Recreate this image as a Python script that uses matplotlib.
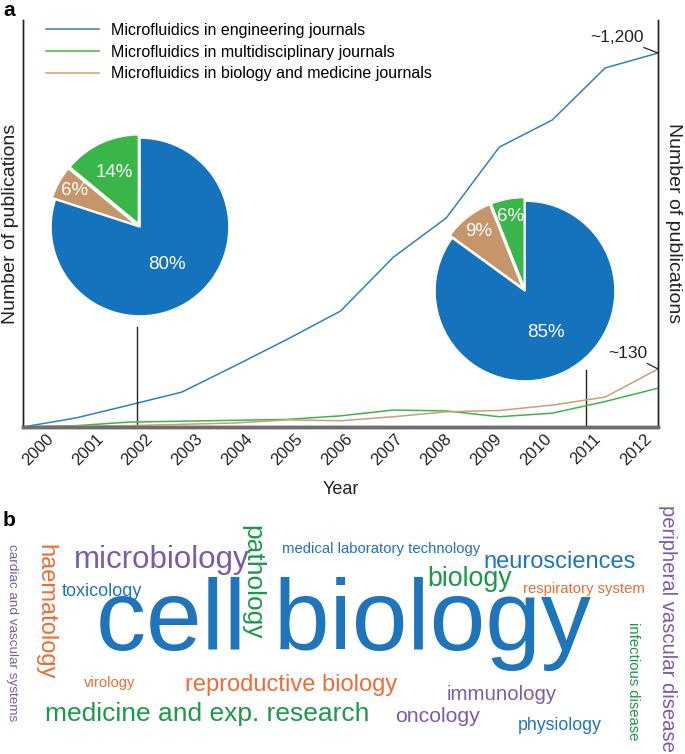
import numpy as np
import matplotlib
matplotlib.use("Agg")
import matplotlib.pyplot as plt
from matplotlib import font_manager

plt.rcParams['font.family'] = ['Liberation Sans', 'DejaVu Sans']

# ---- data ----
years = np.arange(2000, 2013)
engineering = [0, 29, 70, 112, 196, 282, 372, 545, 671, 898, 985, 1152, 1200]
multidisciplinary = [0, 3, 11, 13, 15, 17, 25, 38, 36, 23, 31, 57, 87]
biology_medicine = [0, 2, 3, 6, 9, 16, 14, 23, 34, 37, 49, 67, 130]

series_labels = ['Microfluidics in engineering journals',
                 'Microfluidics in multidisciplinary journals',
                 'Microfluidics in biology and medicine journals']

pie_years = [2002, 2011]
pie_2002 = [14, 6, 80]   # multidisciplinary, biology/medicine, engineering
pie_2011 = [6, 9, 85]

words = ['cell biology', 'microbiology', 'pathology', 'haematology',
         'medical laboratory technology', 'neurosciences', 'biology',
         'toxicology', 'respiratory system', 'cardiac and vascular systems',
         'virology', 'reproductive biology', 'immunology',
         'medicine and exp. research', 'oncology', 'physiology',
         'infectious disease', 'peripheral vascular disease']

# ---- styling ----
W, H = 685, 754
c_blue_line, c_green_line, c_tan_line = '#3280c2', '#3db54d', '#c9a07a'
c_blue_pie, c_tan_pie, c_green_pie = '#1473bc', '#c4966a', '#3ab54a'
wc_blue, wc_green, wc_orange, wc_purple = '#1f75bc', '#1b9a4a', '#f06b35', '#7e5ba6'

# the big headline word is set tight in the original; use the narrow cut if present
try:
    font_manager.findfont('Liberation Sans Narrow', fallback_to_default=False)
    big_family, big_size = 'Liberation Sans Narrow', 90
except ValueError:
    big_family, big_size = 'Liberation Sans', 72


def fx(px):
    return px / W


def fy(py):
    return 1 - py / H


fig = plt.figure(figsize=(W / 100, H / 100), dpi=100)

# main axes (left: engineering, right: the two smaller series)
ax = fig.add_axes([fx(23), fy(427), fx(658) - fx(23), fy(20) - fy(427)])
ax2 = ax.twinx()

ax.plot(years, engineering, color=c_blue_line, lw=1.1, label=series_labels[0])
ax2.plot(years, multidisciplinary, color=c_green_line, lw=1.1, label=series_labels[1])
ax2.plot(years, biology_medicine, color=c_tan_line, lw=1.1, label=series_labels[2])

ax.set_xlim(2000, 2012)
ax.set_ylim(0, 1306)
ax2.set_ylim(0, 912)

for a in (ax, ax2):
    a.spines['top'].set_visible(False)
    a.spines['left'].set_color('#222222')
    a.spines['right'].set_color('#222222')
    a.spines['left'].set_linewidth(1.0)
    a.spines['right'].set_linewidth(1.0)
    a.spines['bottom'].set_color('#6e6e6e')
    a.spines['bottom'].set_linewidth(2.5)
    a.set_yticks([])
    a.tick_params(length=0)

# the year labels in the original sit on a slightly tighter grid than the data
tick_pos = np.linspace(2000.28, 2011.58, len(years))
ax.set_xticks(tick_pos)
ax.set_xticklabels([str(y) for y in years], rotation=45, ha='center',
                   va='top', fontsize=12, color='#222222')
ax.tick_params(axis='x', pad=3)
ax.set_xlabel('Year', fontsize=13, color='#222222', labelpad=9)
ax.set_ylabel('Number of publications', fontsize=14, color='#222222', labelpad=3)
ax2.set_ylabel('Number of publications', fontsize=14, color='#222222',
               rotation=270, labelpad=17)

# legend
handles = ax.get_lines() + ax2.get_lines()
fig.legend(handles, series_labels, loc='upper left',
           bbox_to_anchor=(fx(46), fy(23)), frameon=False, fontsize=11.5,
           handlelength=3.3, handletextpad=0.75, labelspacing=0.42,
           borderaxespad=0, borderpad=0)

# end-of-line callouts
ax.annotate('~1,200', xy=(years[-1], engineering[-1]), xytext=(-10, 6),
            textcoords='offset points', ha='right', va='bottom', fontsize=12.5,
            color='#222222',
            arrowprops=dict(arrowstyle='-', color='#222222', lw=0.9,
                            shrinkA=0, shrinkB=0))
ax2.annotate('~130', xy=(years[-1], biology_medicine[-1]), xytext=(-8, 6),
             textcoords='offset points', ha='right', va='bottom', fontsize=12.5,
             color='#222222',
             arrowprops=dict(arrowstyle='-', color='#222222', lw=0.9,
                             shrinkA=0, shrinkB=0))

# pies with pointer lines to their year
pie_specs = [(pie_2002, (140, 227), 89, 327), (pie_2011, (525, 291), 90, 370)]
for i, (vals, (cx, cy), r, ybot) in enumerate(pie_specs):
    xi = tick_pos[list(years).index(pie_years[i])]
    ax.plot([xi, xi], [0, ax.get_ylim()[1] * (427 - ybot) / 407],
            color='#222222', lw=1.0)
    s = 2.2 * r
    pax = fig.add_axes([fx(cx - s / 2), fy(cy + s / 2), s / W, s / H])
    wedges, texts = pax.pie(vals, colors=[c_green_pie, c_tan_pie, c_blue_pie],
                            startangle=90, counterclock=True,
                            explode=[0.04, 0.04, 0],
                            wedgeprops=dict(edgecolor='white', linewidth=1.2))
    pax.set_xlim(-1.1, 1.1)
    pax.set_ylim(-1.1, 1.1)
    pax.set_aspect('equal')
    pax.axis('off')
    # label positions inside wedges
    cum = 0
    for v in vals:
        mid = np.deg2rad(90 + (cum + v / 2) * 3.6)
        d = 0.52 if v > 50 else (0.84 if v < 10 else 0.68)
        pax.text(d * np.cos(mid), d * np.sin(mid), f'{v}%', color='white',
                 fontsize=13.5, ha='center', va='center')
        cum += v

# panel letters
fig.text(fx(3), fy(11), 'a', fontsize=15, fontweight='bold', va='center', ha='left')
fig.text(fx(3), fy(521), 'b', fontsize=15, fontweight='bold', va='center', ha='left')

# ---- word cloud (panel b) ----
# (x px, y px, font size, rotation, colour) in the same order as words
cloud_layout = [
    (343, 650, big_size, 0, wc_blue),
    (162, 560, 22.5, 0, wc_purple),
    (252, 582, 19, 270, wc_green),
    (45, 612, 17, 270, wc_orange),
    (381, 549, 10.7, 0, wc_blue),
    (560, 562, 17, 0, wc_blue),
    (470, 579, 19.3, 0, wc_green),
    (102, 591, 13, 0, wc_blue),
    (584, 589, 10.7, 0, wc_orange),
    (12, 633, 9.7, 270, wc_purple),
    (110, 683, 10.7, 0, wc_orange),
    (291, 685, 17, 0, wc_orange),
    (502, 694, 14.7, 0, wc_purple),
    (207, 714, 19, 0, wc_green),
    (437, 716, 15.3, 0, wc_purple),
    (560, 725, 12.8, 0, wc_blue),
    (633, 681, 10.7, 270, wc_green),
    (667, 628, 14.6, 270, wc_purple),
]
for word, (x, y, size, rot, col) in zip(words, cloud_layout):
    if size > 50:
        fig.text(fx(x), fy(y), word, fontsize=size, color=col, ha='center',
                 va='baseline', family=big_family)
    else:
        fig.text(fx(x), fy(y), word, fontsize=size, rotation=rot, color=col,
                 ha='center', va='center',
                 rotation_mode='anchor' if rot == 0 else 'default')

fig.savefig('out.png', dpi=100)
